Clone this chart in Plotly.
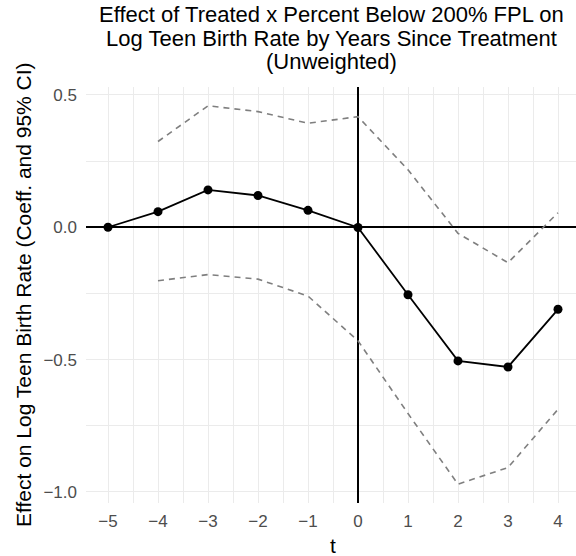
import plotly.graph_objects as go

# Event-study estimates by years since treatment
t = [-5, -4, -3, -2, -1, 0, 1, 2, 3, 4]
coef = [0.0, 0.059, 0.141, 0.120, 0.064, -0.001, -0.255, -0.505, -0.528, -0.310]

# 95% confidence bounds (reference year -5 has none)
t_ci = [-4, -3, -2, -1, 0, 1, 2, 3, 4]
ci_upper = [0.324, 0.459, 0.437, 0.393, 0.418, 0.217, -0.023, -0.134, 0.055]
ci_lower = [-0.202, -0.179, -0.196, -0.260, -0.429, -0.704, -0.971, -0.908, -0.688]

x_ticks = list(range(-5, 5))
x_tick_text = [str(v).replace("-", "\u2212") for v in x_ticks]
y_ticks = [-1.0, -0.5, 0.0, 0.5]
y_tick_text = ["\u22121.0", "\u22120.5", "0.0", "0.5"]

title_lines = [
    "Effect of Treated x Percent Below 200% FPL on",
    "Log Teen Birth Rate by Years Since Treatment",
    "(Unweighted)",
]

FONT = "Liberation Sans, Arial, sans-serif"
GRID = "#EBEBEB"

W, H = 576, 556
M_L, M_R, M_T, M_B = 86, 0, 87, 53
PLOT_H = H - M_T - M_B


def py_to_paper(py):
    """Convert a pixel row (from top of page) to paper y."""
    return (H - M_B - py) / PLOT_H


def px_to_paper(px):
    return (px - M_L) / (W - M_L - M_R)


fig = go.Figure()

for ys in (ci_upper, ci_lower):
    fig.add_trace(go.Scatter(
        x=t_ci, y=ys, mode="lines",
        line=dict(color="#7F7F7F", width=1.6, dash="6px,5px"),
        hoverinfo="skip", showlegend=False,
    ))

fig.add_trace(go.Scatter(
    x=t, y=coef, mode="lines+markers",
    line=dict(color="black", width=1.8),
    marker=dict(color="black", size=9),
    showlegend=False,
))

annotations = []
for i, line in enumerate(title_lines):
    annotations.append(dict(
        text=line, xref="paper", yref="paper",
        x=0.5, y=py_to_paper(15 + 23 * i),
        xanchor="center", yanchor="middle", showarrow=False,
        font=dict(size=22, family=FONT, color="black"),
    ))

annotations.append(dict(
    text="t", xref="paper", yref="paper",
    x=px_to_paper(333), y=py_to_paper(545),
    xanchor="center", yanchor="middle", showarrow=False,
    font=dict(size=21, family=FONT, color="black"),
))
annotations.append(dict(
    text="Effect on Log Teen Birth Rate (Coeff. and 95% CI)",
    xref="paper", yref="paper", x=px_to_paper(23), y=0.5, textangle=-90,
    xanchor="center", yanchor="middle", showarrow=False,
    font=dict(size=21, family=FONT, color="black"),
))

fig.update_layout(
    width=W, height=H,
    margin=dict(l=M_L, r=M_R, t=M_T, b=M_B, autoexpand=False),
    paper_bgcolor="white", plot_bgcolor="white",
    font=dict(family=FONT, color="black"),
    xaxis=dict(
        range=[-5.44, 4.36],
        tickvals=x_ticks, ticktext=x_tick_text,
        tickfont=dict(size=17, color="#4D4D4D"),
        ticklabelstandoff=6,
        showgrid=True, gridcolor=GRID, gridwidth=1.1,
        minor=dict(dtick=0.5, tick0=0, showgrid=True, gridcolor=GRID, gridwidth=0.6),
        zeroline=True, zerolinecolor="black", zerolinewidth=1.6,
        showline=False, ticks="", fixedrange=True, automargin=False,
    ),
    yaxis=dict(
        range=[-1.042, 0.53],
        tickvals=y_ticks, ticktext=y_tick_text,
        tickfont=dict(size=17, color="#4D4D4D"),
        ticklabelstandoff=8,
        showgrid=True, gridcolor=GRID, gridwidth=1.1,
        minor=dict(dtick=0.25, tick0=0, showgrid=True, gridcolor=GRID, gridwidth=0.6),
        zeroline=True, zerolinecolor="black", zerolinewidth=1.6,
        showline=False, ticks="", fixedrange=True, automargin=False,
    ),
    annotations=annotations,
)

fig.write_html("out.html")
